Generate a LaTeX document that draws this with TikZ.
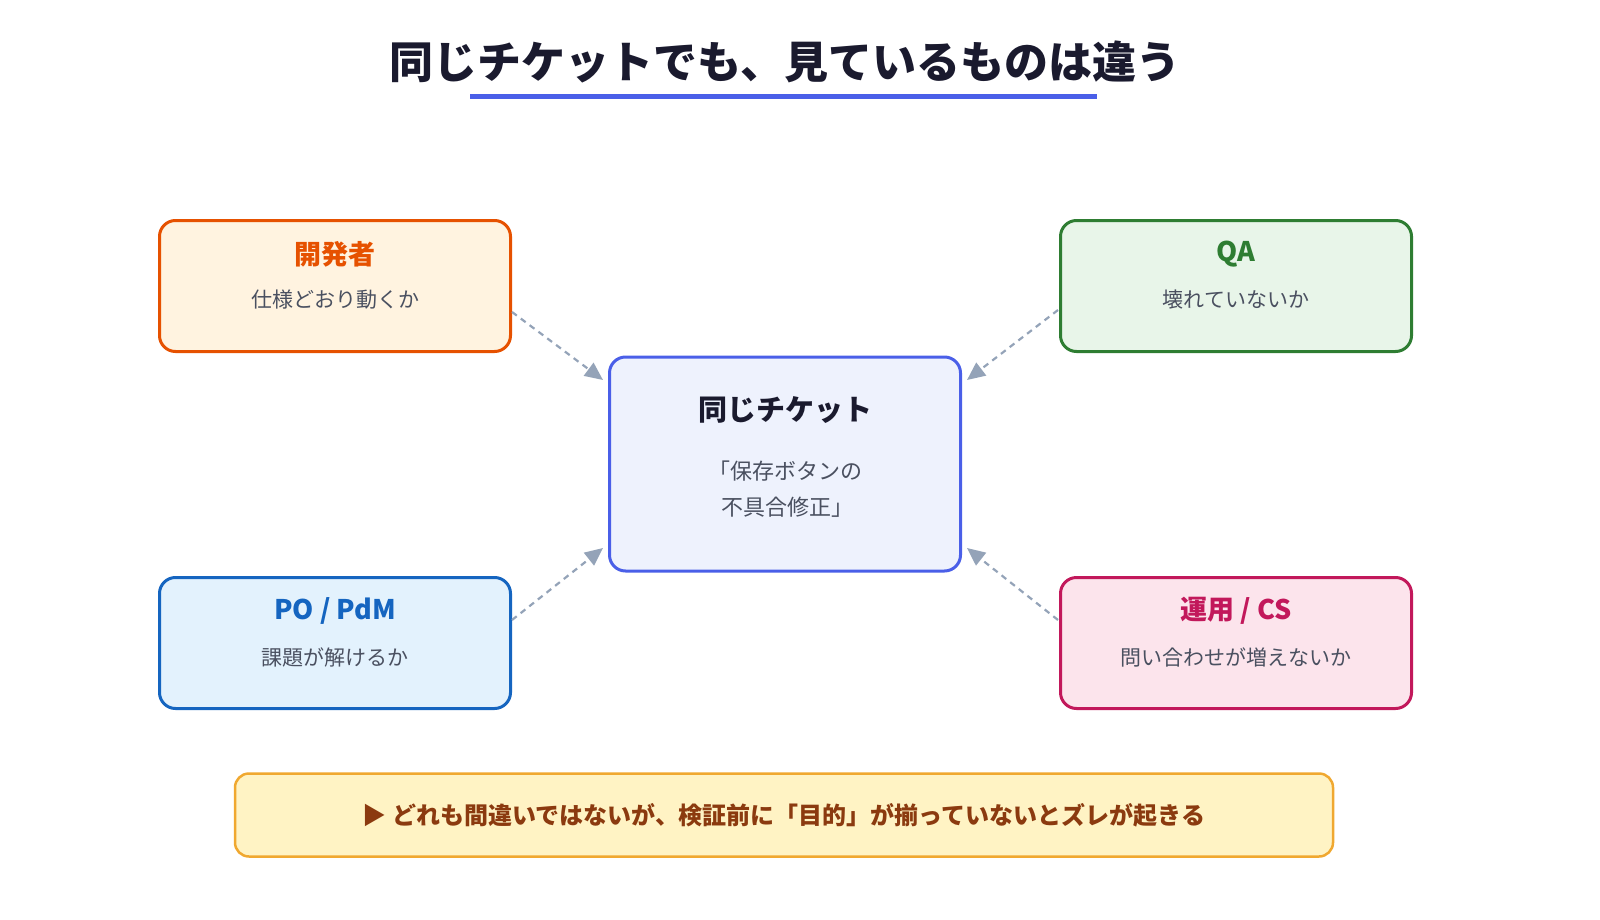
\documentclass[tikz,border=0pt]{standalone}
\usepackage{fontspec}
\setmainfont{Noto Sans CJK JP}
\usetikzlibrary{arrows.meta}
\definecolor{devB}{HTML}{E65100}\definecolor{devF}{HTML}{FFF3E0}
\definecolor{qaB}{HTML}{2E7D32}\definecolor{qaF}{HTML}{E8F5E9}
\definecolor{poB}{HTML}{1565C0}\definecolor{poF}{HTML}{E3F2FD}
\definecolor{opB}{HTML}{C2185B}\definecolor{opF}{HTML}{FCE4EC}
\definecolor{ctB}{HTML}{4A5FE8}\definecolor{ctF}{HTML}{EEF2FD}
\definecolor{btB}{HTML}{F0A830}\definecolor{btF}{HTML}{FFF3C4}\definecolor{btT}{HTML}{8B3A0F}
\definecolor{ink}{HTML}{1A1A2E}\definecolor{sub}{HTML}{4A5060}\definecolor{arr}{HTML}{94A3B8}
\begin{document}
\begin{tikzpicture}[x=1pt,y=-1pt,
 box/.style={draw,line width=3pt,rounded corners=16pt,minimum width=351pt,minimum height=131pt,inner sep=0pt},
 arrow/.style={draw=arr,line width=2.2pt,dash pattern=on 6pt off 5pt,-{Triangle[length=18pt,width=16pt]}},
 ttl/.style={font=\bfseries\fontsize{27}{30}\selectfont},
 st/.style={font=\fontsize{21}{24}\selectfont,text=sub}]
\useasboundingbox (0,0) rectangle (1600,920);
\node[font=\bfseries\fontsize{44}{50}\selectfont,text=ink] (title) at (785,62) {同じチケットでも、見ているものは違う};
\draw[ctB,line width=5pt] (470,97) coordinate (u1) -- (1097,97) coordinate (u2);
\node[box,draw=devB,fill=devF] (dev) at (335,286) {};
\node[ttl,text=devB] at (335,254) {開発者};
\node[st] at (335,300) {仕様どおり動くか};
\node[box,draw=qaB,fill=qaF] (qa) at (1236,286) {};
\node[ttl,text=qaB] at (1236,254) {QA};
\node[st] at (1236,300) {壊れていないか};
\node[box,draw=poB,fill=poF] (po) at (335,643) {};
\node[ttl,text=poB] at (335,611) {PO / PdM};
\node[st] at (335,657) {課題が解けるか};
\node[box,draw=opB,fill=opF] (op) at (1236,643) {};
\node[ttl,text=opB] at (1236,611) {運用 / CS};
\node[st] at (1236,657) {問い合わせが増えないか};
\node[box,draw=ctB,fill=ctF,minimum height=214pt] (ct) at (785,464) {};
\node[font=\bfseries\fontsize{29}{32}\selectfont,text=ink] at (785,410) {同じチケット};
\node[st,align=center,font=\fontsize{22}{36}\selectfont] at (785,489) {「保存ボタンの\\ \ 不具合修正」};
\draw[arrow] (dev.east|-0,312) -- (603,380);
\draw[arrow] (1058,310) -- (967,380);
\draw[arrow] (po.east|-0,620) -- (603,548);
\draw[arrow] (1058,620) -- (967,548);
\node[draw=btB,fill=btF,line width=2.5pt,rounded corners=14pt,minimum width=1098pt,minimum height=83pt,inner sep=0pt,text=btT,font=\bfseries\fontsize{24}{28}\selectfont] (bt) at (784,815) {▶ どれも間違いではないが、検証前に「目的」が揃っていないとズレが起きる};
\end{tikzpicture}
\end{document}
